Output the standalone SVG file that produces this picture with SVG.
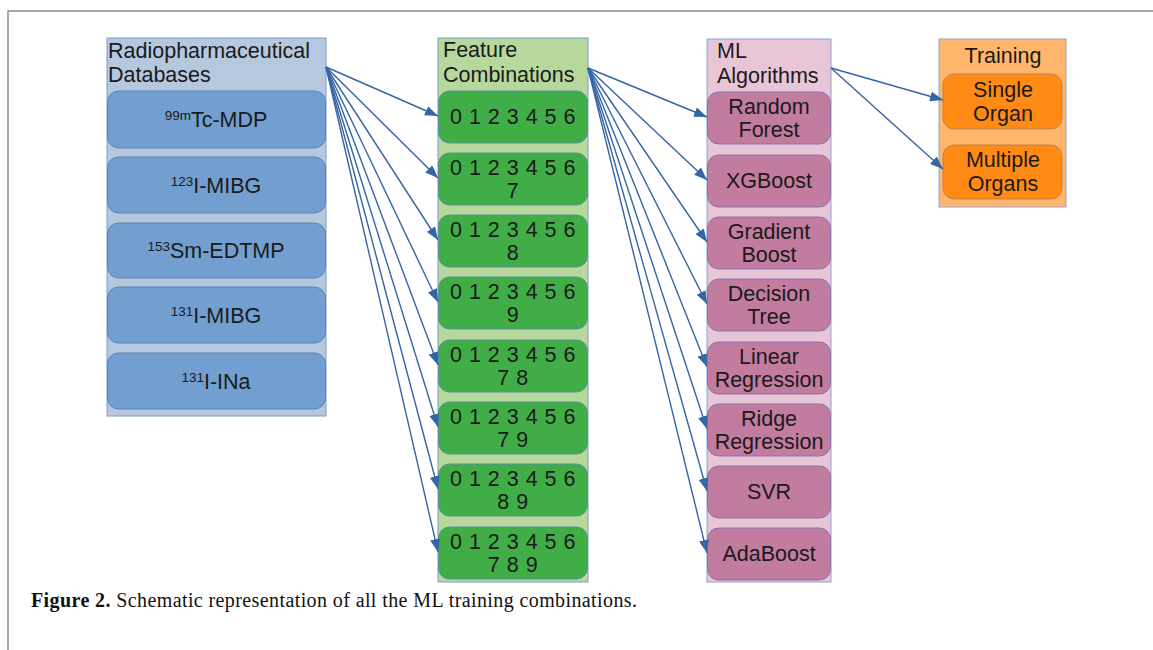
<svg xmlns="http://www.w3.org/2000/svg" width="1153" height="650" viewBox="0 0 1153 650">
<style>
text{font-family:"Liberation Sans",Arial,sans-serif;fill:#1a1a1a;font-size:21.5px}
.mid{text-anchor:middle}
.sup{font-size:13.5px}
.c1{fill:#b5c8de;stroke:#7a9ccc;stroke-width:1}
.b1{fill:#729fcf;stroke:#5a83bb;stroke-width:1}
.c2{fill:#b6d89c;stroke:#7a9ccc;stroke-width:1}
.b2{fill:#41ad47;stroke:#5b8f9e;stroke-width:1}
.c3{fill:#e9c6d7;stroke:#8aa5d0;stroke-width:1}
.b3{fill:#c27c9f;stroke:#8b72ad;stroke-width:1}
.c4{fill:#ffb66c;stroke:#8fa8cc;stroke-width:1}
.b4{fill:#ff8a14;stroke:#b58656;stroke-width:1}
.dig{letter-spacing:0.5px}
.conn line{stroke:#3465a4;stroke-width:1.4;marker-end:url(#ah)}
.cap{font-family:"Liberation Serif","Times New Roman",serif;font-size:20px;fill:#111}
</style>
<defs>
<marker id="ah" markerUnits="userSpaceOnUse" markerWidth="13" markerHeight="10" refX="13" refY="5" orient="auto">
<path d="M0,0 L13,5 L0,10 z" fill="#3465a4"/>
</marker>
</defs>
<rect width="1153" height="650" fill="#fff"/>
<path d="M8,650 V11 H1153" fill="none" stroke="#8a8a8a" stroke-width="1.5"/>

<g id="radiopharmaceutical-databases">
<rect class="c1" x="107" y="38" width="219" height="378"/>
<text x="108" y="58">Radiopharmaceutical</text>
<text x="108" y="82">Databases</text>
<g id="tc-mdp"><rect class="b1" x="107.5" y="91" width="218" height="57" rx="11"/>
<text class="mid" x="216" y="127"><tspan class="sup" dy="-7">99m</tspan><tspan dy="7">Tc-MDP</tspan></text></g>
<g id="i123-mibg"><rect class="b1" x="107.5" y="157" width="218" height="56" rx="11"/>
<text class="mid" x="216" y="193"><tspan class="sup" dy="-7">123</tspan><tspan dy="7">I-MIBG</tspan></text></g>
<g id="sm153-edtmp"><rect class="b1" x="107.5" y="223" width="218" height="55" rx="11"/>
<text class="mid" x="216" y="258"><tspan class="sup" dy="-7">153</tspan><tspan dy="7">Sm-EDTMP</tspan></text></g>
<g id="i131-mibg"><rect class="b1" x="107.5" y="287" width="218" height="56" rx="11"/>
<text class="mid" x="216" y="323"><tspan class="sup" dy="-7">131</tspan><tspan dy="7">I-MIBG</tspan></text></g>
<g id="i131-ina"><rect class="b1" x="107.5" y="353" width="218" height="56" rx="11"/>
<text class="mid" x="216" y="389"><tspan class="sup" dy="-7">131</tspan><tspan dy="7">I-INa</tspan></text></g>
</g>

<g id="feature-combinations">
<rect class="c2" x="438" y="38" width="150" height="544"/>
<text x="443" y="57">Feature</text>
<text x="443" y="82">Combinations</text>
<g id="fc1"><rect class="b2" x="438.5" y="91" width="149" height="52" rx="11"/>
<text class="mid dig" x="513" y="124">0 1 2 3 4 5 6</text></g>
<g id="fc2"><rect class="b2" x="438.5" y="153" width="149" height="52" rx="11"/>
<text class="mid dig" x="513" y="175">0 1 2 3 4 5 6</text><text class="mid dig" x="513" y="198">7</text></g>
<g id="fc3"><rect class="b2" x="438.5" y="215" width="149" height="52" rx="11"/>
<text class="mid dig" x="513" y="237">0 1 2 3 4 5 6</text><text class="mid dig" x="513" y="260">8</text></g>
<g id="fc4"><rect class="b2" x="438.5" y="277" width="149" height="52" rx="11"/>
<text class="mid dig" x="513" y="299">0 1 2 3 4 5 6</text><text class="mid dig" x="513" y="322">9</text></g>
<g id="fc5"><rect class="b2" x="438.5" y="340" width="149" height="52" rx="11"/>
<text class="mid dig" x="513" y="362">0 1 2 3 4 5 6</text><text class="mid dig" x="513" y="385">7 8</text></g>
<g id="fc6"><rect class="b2" x="438.5" y="402" width="149" height="52" rx="11"/>
<text class="mid dig" x="513" y="424">0 1 2 3 4 5 6</text><text class="mid dig" x="513" y="447">7 9</text></g>
<g id="fc7"><rect class="b2" x="438.5" y="464" width="149" height="52" rx="11"/>
<text class="mid dig" x="513" y="486">0 1 2 3 4 5 6</text><text class="mid dig" x="513" y="509">8 9</text></g>
<g id="fc8"><rect class="b2" x="438.5" y="527" width="149" height="52" rx="11"/>
<text class="mid dig" x="513" y="549">0 1 2 3 4 5 6</text><text class="mid dig" x="513" y="572">7 8 9</text></g>
</g>

<g id="ml-algorithms">
<rect class="c3" x="707" y="39" width="124" height="543"/>
<text x="717" y="58">ML</text>
<text x="717" y="83">Algorithms</text>
<g id="random-forest"><rect class="b3" x="707.5" y="92" width="123" height="52" rx="11"/>
<text class="mid" x="769" y="114">Random</text><text class="mid" x="769" y="137">Forest</text></g>
<g id="xgboost"><rect class="b3" x="707.5" y="155" width="123" height="52" rx="11"/>
<text class="mid" x="769" y="188">XGBoost</text></g>
<g id="gradient-boost"><rect class="b3" x="707.5" y="217" width="123" height="52" rx="11"/>
<text class="mid" x="769" y="239">Gradient</text><text class="mid" x="769" y="262">Boost</text></g>
<g id="decision-tree"><rect class="b3" x="707.5" y="279" width="123" height="52" rx="11"/>
<text class="mid" x="769" y="301">Decision</text><text class="mid" x="769" y="324">Tree</text></g>
<g id="linear-regression"><rect class="b3" x="707.5" y="342" width="123" height="52" rx="11"/>
<text class="mid" x="769" y="364">Linear</text><text class="mid" x="769" y="387">Regression</text></g>
<g id="ridge-regression"><rect class="b3" x="707.5" y="404" width="123" height="52" rx="11"/>
<text class="mid" x="769" y="426">Ridge</text><text class="mid" x="769" y="449">Regression</text></g>
<g id="svr"><rect class="b3" x="707.5" y="466" width="123" height="52" rx="11"/>
<text class="mid" x="769" y="499">SVR</text></g>
<g id="adaboost"><rect class="b3" x="707.5" y="528" width="123" height="52" rx="11"/>
<text class="mid" x="769" y="561">AdaBoost</text></g>
</g>

<g id="training">
<rect class="c4" x="939" y="39" width="127" height="168"/>
<text class="mid" x="1003" y="63">Training</text>
<g id="single-organ"><rect class="b4" x="943" y="74" width="119" height="55" rx="11"/>
<text class="mid" x="1003" y="97">Single</text><text class="mid" x="1003" y="121">Organ</text></g>
<g id="multiple-organs"><rect class="b4" x="943" y="145" width="119" height="54" rx="11"/>
<text class="mid" x="1003" y="167">Multiple</text><text class="mid" x="1003" y="191">Organs</text></g>
</g>

<g id="connectors" class="conn">
<line x1="326" y1="67" x2="438" y2="116"/>
<line x1="326" y1="67" x2="438" y2="178"/>
<line x1="326" y1="67" x2="438" y2="240"/>
<line x1="326" y1="67" x2="438" y2="302"/>
<line x1="326" y1="67" x2="438" y2="365"/>
<line x1="326" y1="67" x2="438" y2="427"/>
<line x1="326" y1="67" x2="438" y2="489"/>
<line x1="326" y1="67" x2="438" y2="552"/>
<line x1="588" y1="68" x2="707" y2="117"/>
<line x1="588" y1="68" x2="707" y2="180"/>
<line x1="588" y1="68" x2="707" y2="242"/>
<line x1="588" y1="68" x2="707" y2="304"/>
<line x1="588" y1="68" x2="707" y2="367"/>
<line x1="588" y1="68" x2="707" y2="429"/>
<line x1="588" y1="68" x2="707" y2="491"/>
<line x1="588" y1="68" x2="707" y2="553"/>
<line x1="831" y1="68" x2="943" y2="100"/>
<line x1="831" y1="68" x2="943" y2="169"/>
</g>

<text class="cap" x="31" y="607" textLength="606" lengthAdjust="spacing"><tspan font-weight="bold">Figure 2.</tspan> Schematic representation of all the ML training combinations.</text>
</svg>
